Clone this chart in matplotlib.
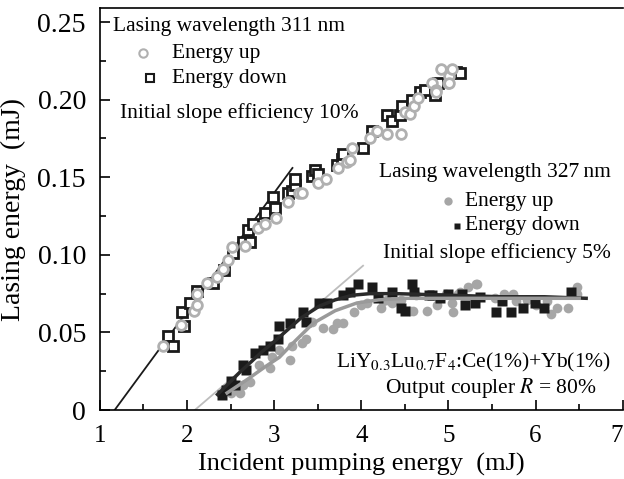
import matplotlib.pyplot as plt
from matplotlib.ticker import MultipleLocator

plt.rcParams['font.family'] = ['Liberation Serif', 'DejaVu Serif']
plt.rcParams['mathtext.fontset'] = 'stix'

GRAY = '#a6a6a6'
BLACK = '#1a1a1a'

# 311 nm, energy up (open gray circles)
up311_x = [1.73, 1.93, 2.08, 2.12, 2.12, 2.23, 2.35, 2.41, 2.47, 2.52, 2.67, 2.81, 2.90, 3.02,
           3.16, 3.28, 3.32, 3.50, 3.60, 3.73, 3.84, 3.87, 3.89, 4.10, 4.18, 4.29, 4.46, 4.50,
           4.56, 4.61, 4.65, 4.81, 4.86, 4.92, 4.99, 5.01, 5.04, 4.86, 5.01]
up311_y = [0.041, 0.055, 0.064, 0.068, 0.075, 0.082, 0.086, 0.091, 0.097, 0.105, 0.106, 0.117, 0.120, 0.124,
           0.134, 0.140, 0.140, 0.146, 0.149, 0.156, 0.160, 0.161, 0.169, 0.175, 0.180, 0.178, 0.178, 0.192,
           0.191, 0.196, 0.201, 0.211, 0.206, 0.220, 0.211, 0.215, 0.220, 0.205, 0.211]

# 311 nm, energy down (open black squares)
down311_x = [1.78, 1.84, 1.97, 1.94, 2.03, 2.11, 2.30, 2.43, 2.53, 2.64, 2.72, 2.70, 2.76, 2.89,
             3.01, 2.99, 3.16, 3.20, 3.24, 3.24, 3.43, 3.47, 3.50, 3.72, 3.78, 3.79, 4.02, 4.12,
             4.29, 4.35, 4.44, 4.47, 4.58, 4.67, 4.73, 4.84, 4.88, 5.09, 5.13]
down311_y = [0.048, 0.041, 0.054, 0.063, 0.069, 0.077, 0.082, 0.090, 0.101, 0.108, 0.108, 0.116, 0.120, 0.127,
             0.130, 0.137, 0.140, 0.141, 0.145, 0.149, 0.151, 0.155, 0.152, 0.158, 0.162, 0.165, 0.169, 0.180,
             0.190, 0.186, 0.190, 0.196, 0.200, 0.205, 0.206, 0.203, 0.211, 0.218, 0.217]

# 327 nm, energy up (filled gray circles)
up327_x = [2.51, 2.61, 2.64, 2.72, 2.83, 2.95, 2.98, 3.06, 3.18, 3.21, 3.32, 3.37, 3.44, 3.56,
           3.67, 3.72, 3.79, 3.92, 4.00, 4.06, 4.23, 4.25, 4.30, 4.35, 4.44, 4.46, 4.56, 4.59,
           4.63, 4.75, 4.87, 4.97, 5.04, 5.05, 5.11, 5.13, 5.22, 5.32, 5.33, 5.53, 5.64, 5.74,
           5.78, 5.90, 6.01, 6.13, 6.18, 6.24, 6.37, 6.47, 6.48, 2.45, 2.57]
up327_y = [0.011, 0.011, 0.016, 0.018, 0.029, 0.027, 0.034, 0.039, 0.032, 0.041, 0.043, 0.046, 0.057, 0.053,
           0.052, 0.056, 0.056, 0.063, 0.068, 0.069, 0.066, 0.070, 0.071, 0.069, 0.070, 0.071, 0.064, 0.064,
           0.074, 0.064, 0.068, 0.075, 0.069, 0.063, 0.075, 0.076, 0.079, 0.081, 0.081, 0.072, 0.075, 0.075,
           0.070, 0.071, 0.068, 0.070, 0.062, 0.066, 0.066, 0.079, 0.075, 0.014, 0.013]

# 327 nm, energy down (filled black squares)
down327_x = [2.40, 2.51, 2.55, 2.64, 2.68, 2.78, 2.87, 2.95, 3.04, 3.06, 3.18, 3.33, 3.37, 3.52,
             3.61, 3.79, 3.87, 3.96, 4.12, 4.19, 4.35, 4.46, 4.50, 4.58, 4.61, 4.78, 4.81, 4.90,
             4.99, 5.15, 5.19, 5.30, 5.36, 5.55, 5.62, 5.72, 5.85, 5.99, 6.10, 6.41, 2.45]
down327_y = [0.010, 0.019, 0.016, 0.029, 0.026, 0.037, 0.039, 0.041, 0.046, 0.054, 0.056, 0.063, 0.057, 0.069,
             0.069, 0.074, 0.076, 0.081, 0.079, 0.072, 0.076, 0.066, 0.064, 0.081, 0.076, 0.074, 0.074, 0.072,
             0.075, 0.075, 0.068, 0.069, 0.073, 0.063, 0.070, 0.063, 0.066, 0.069, 0.066, 0.076, 0.013]

# fitted lines / curves
fit311_x = [1.17, 3.21]
fit311_y = [0.0, 0.156]
slope327_x = [2.09, 4.02]
slope327_y = [0.0, 0.093]
curve_down_x = [2.35, 2.6, 2.85, 3.06, 3.3, 3.52, 3.7, 3.9, 4.1, 4.4, 5.0, 5.6, 6.1, 6.58]
curve_down_y = [0.010, 0.024, 0.037, 0.047, 0.059, 0.067, 0.071, 0.074, 0.075, 0.075, 0.074, 0.073, 0.073, 0.072]
curve_up_x = [2.46, 2.7, 2.9, 3.06, 3.25, 3.45, 3.7, 3.95, 4.2, 4.5, 5.0, 5.6, 6.1, 6.5]
curve_up_y = [0.011, 0.020, 0.028, 0.034, 0.045, 0.056, 0.064, 0.069, 0.071, 0.072, 0.072, 0.072, 0.072, 0.072]

fig = plt.figure(figsize=(6.24, 4.79), dpi=100)
ax = fig.add_axes([0.160, 0.144, 0.838, 0.839])

ax.plot(fit311_x, fit311_y, color=BLACK, lw=1.3, zorder=1)
ax.plot(slope327_x, slope327_y, color='#bdbdbd', lw=1.3, zorder=1)

ax.plot(up311_x, up311_y, 'o', ms=7, mfc='white', mec='#b0b0b0', mew=2, zorder=3)
ax.plot(down311_x, down311_y, 's', ms=7, mfc='white', mec=BLACK, mew=2, zorder=2)

ax.plot(up327_x, up327_y, 'o', ms=7, color=GRAY, mec='none', zorder=2)
ax.plot(down327_x, down327_y, 's', ms=7, color=BLACK, mec='none', zorder=2)
ax.plot(curve_down_x, curve_down_y, color='#2a2a2a', lw=2.5, zorder=4)
ax.plot(curve_up_x, curve_up_y, color='#9a9a9a', lw=2.5, zorder=4)

ax.set_xlim(1, 7)
ax.set_ylim(0, 0.259)
ax.set_xticks([1, 2, 3, 4, 5, 6, 7])
ax.set_yticks([0, 0.05, 0.10, 0.15, 0.20, 0.25])
ax.set_yticklabels(['0', '0.05', '0.10', '0.15', '0.20', '0.25'])
ax.xaxis.set_minor_locator(MultipleLocator(0.5))
ax.yaxis.set_minor_locator(MultipleLocator(0.025))
ax.tick_params(which='both', direction='in', width=1.2)
ax.tick_params(which='major', length=7)
ax.tick_params(which='minor', length=4)
ax.tick_params(axis='x', labelsize=18, pad=11)
ax.tick_params(axis='y', labelsize=20, pad=10)
ax.get_xticklabels()[-1].set_ha('right')
ax.spines['right'].set_visible(False)
for s in ['left', 'bottom', 'top']:
    ax.spines[s].set_linewidth(1.2)

ax.set_xlabel('Incident pumping energy  (mJ)', fontsize=19, labelpad=4)
ax.set_ylabel('Lasing energy  (mJ)', fontsize=20, labelpad=8)

# annotations
ta = ax.transAxes
fs = 15.5
ax.text(0.025, 0.955, 'Lasing wavelength 311 nm', transform=ta, fontsize=fs, va='center')
ax.plot([0.082], [0.888], 'o', ms=6, mfc='white', mec='#b0b0b0', mew=1.5, transform=ta)
ax.text(0.138, 0.888, 'Energy up', transform=ta, fontsize=fs, va='center')
ax.plot([0.096], [0.826], 's', ms=5.5, mfc='white', mec=BLACK, mew=1.5, transform=ta)
ax.text(0.138, 0.826, 'Energy down', transform=ta, fontsize=fs, va='center')
ax.text(0.038, 0.739, 'Initial slope efficiency 10%', transform=ta, fontsize=fs, va='center')

ax.text(0.977, 0.590, 'Lasing wavelength 327\u2009nm', transform=ta, fontsize=fs, va='center', ha='right')
ax.plot([0.665], [0.520], 'o', ms=6, color=GRAY, mec='none', transform=ta)
ax.text(0.698, 0.520, 'Energy up', transform=ta, fontsize=fs, va='center')
ax.plot([0.683], [0.458], 's', ms=5, color=BLACK, mec='none', transform=ta)
ax.text(0.698, 0.458, 'Energy down', transform=ta, fontsize=fs, va='center')
ax.text(0.978, 0.391, 'Initial slope efficiency 5%', transform=ta, fontsize=fs, va='center', ha='right')

ax.text(0.978, 0.119, r'LiY$_{0.3}$Lu$_{0.7}$F$_4$:Ce(1%)+Yb(1%)', transform=ta, fontsize=fs,
        va='center', ha='right')
ax.text(0.95, 0.055, r'Output coupler $R$ = 80%', transform=ta, fontsize=fs, va='center', ha='right')

fig.savefig('out.png', dpi=100)
